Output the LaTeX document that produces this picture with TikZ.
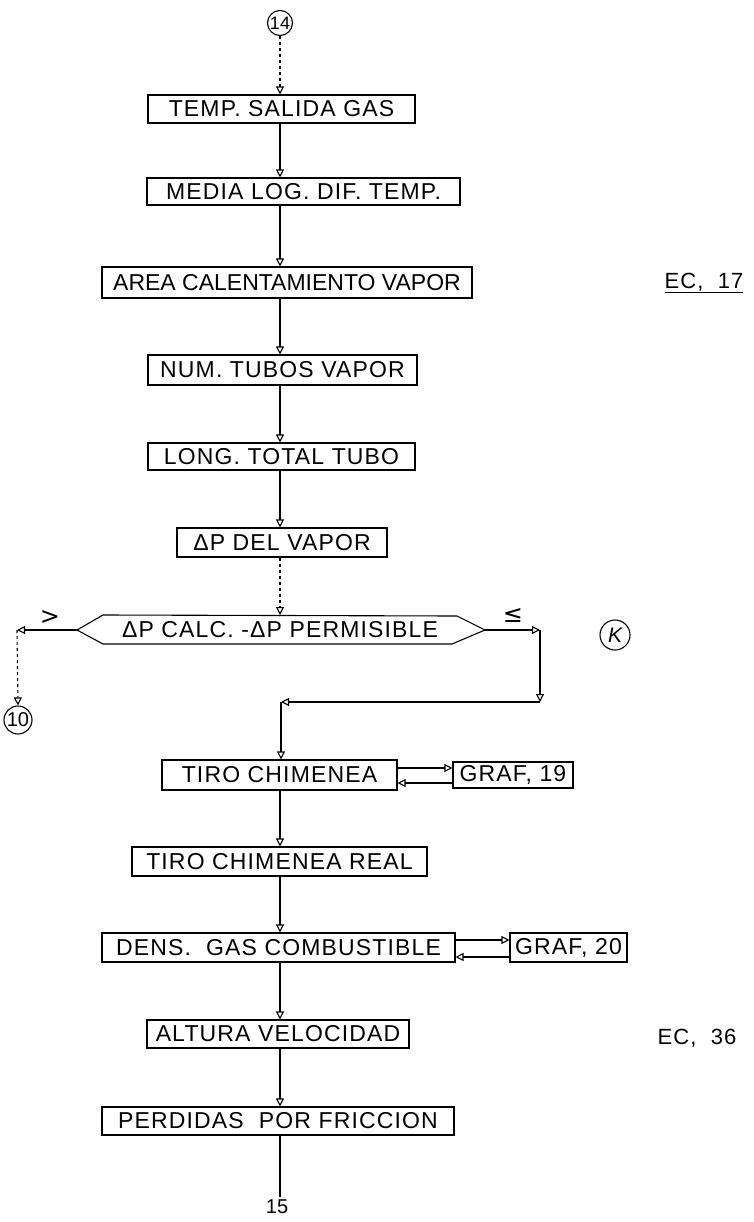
\documentclass[tikz,border=0pt]{standalone}
\usepackage{fontspec}
\setmainfont{Liberation Sans}
\newfontfamily\boxfont[LetterSpace=5]{Liberation Sans}
\newfontfamily\symfont{DejaVu Sans}
\usetikzlibrary{arrows.meta}
\begin{document}
\begin{tikzpicture}[x=1pt,y=-1pt,
  box/.style={draw, line width=1.1pt, inner sep=0pt, font=\boxfont\fontsize{23}{27}\selectfont},
  conn/.style={line width=1.1pt},
  arr/.style={conn, -{Triangle[open, length=8pt, width=8pt]}},
  circ/.style={draw, circle, line width=1.1pt, inner sep=0pt},
  lbl/.style={font=\boxfont\fontsize{22}{26}\selectfont},
  sym/.style={font=\symfont\fontsize{24}{26}\selectfont},
]
\useasboundingbox[fill=white] (0,0) rectangle (754,1222);
\coordinate (ax) at (280,0);

% nodes
\node[circ, minimum size=25pt, font=\fontsize{18}{20}\selectfont] (c14) at (280,23) {14};
\node[box, minimum width=267pt, minimum height=28pt] (b1) at (281.5,109) {TEMP. SALIDA GAS};
\node[box, minimum width=313pt, minimum height=27pt] (b2) at (303.5,191.5) {MEDIA LOG. DIF. TEMP.};
\node[box, minimum width=370pt, minimum height=31pt, font=\fontsize{23}{27}\selectfont] (b3) at (287,282.5) {AREA CALENTAMIENTO VAPOR};
\node[box, minimum width=269pt, minimum height=30pt] (b4) at (282.5,370) {NUM. TUBOS VAPOR};
\node[box, minimum width=267pt, minimum height=27pt] (b5) at (281.5,456.5) {LONG. TOTAL TUBO};
\node[box, minimum width=210pt, minimum height=29pt] (b6) at (282,542.5) {ΔP DEL VAPOR};

% decision
\coordinate (dtl) at (103,615);
\coordinate (dtr) at (457,616);
\coordinate (dr) at (485,630);
\coordinate (dbr) at (452,644);
\coordinate (dbl) at (103,644);
\coordinate (dl) at (77,630);
\draw[conn] (dtl) -- (dtr) -- (dr) -- (dbr) -- (dbl) -- (dl) -- cycle;
\node[font=\boxfont\fontsize{23}{27}\selectfont] (dtext) at (280,630) {ΔP CALC. -ΔP PERMISIBLE};
\coordinate (dtop) at (280,615);

\node[sym] (greater) at (50,618) {>};
\node[sym] (lesseq) at (513,616) {≤};
\node[circ, minimum size=30pt, font=\fontsize{21}{24}\selectfont\itshape] (ck) at (615,635) {K};
\node[circ, minimum size=28pt, font=\fontsize{20}{22}\selectfont] (c10) at (18,720) {10};

\coordinate (lc) at (17,630);
\coordinate (rc) at (540,630);
\coordinate (rb) at (540,702);
\coordinate (lb) at (281,702);

\node[box, minimum width=235pt, minimum height=30pt] (b7) at (279.5,775) {TIRO CHIMENEA};
\node[box, minimum width=120pt, minimum height=26pt] (g19) at (513,775) {GRAF, 19};
\node[box, minimum width=295pt, minimum height=29pt] (b8) at (279.5,861.5) {TIRO CHIMENEA REAL};
\node[box, minimum width=353pt, minimum height=29pt] (b9) at (278.5,947.5) {DENS.\ \ GAS COMBUSTIBLE};
\node[box, minimum width=117pt, minimum height=29pt] (g20) at (568.5,947.5) {GRAF, 20};
\node[box, minimum width=262pt, minimum height=28pt] (b10) at (278,1034) {ALTURA VELOCIDAD};
\node[box, minimum width=352pt, minimum height=28pt] (b11) at (278,1121) {PERDIDAS\ \ POR FRICCION};
\node[font=\fontsize{20}{22}\selectfont] (c15) at (277,1207) {15};

\node[lbl] (ec17) at (704,283) {\underline{EC,\ \ 17}};
\node[lbl] (ec36) at (697,1038) {EC,\ \ 36};

% connectors
\draw[arr, dashed] (c14) -- (b1.north -| ax);
\draw[arr] (b1.south -| ax) -- (b2.north -| ax);
\draw[arr] (b2.south -| ax) -- (b3.north -| ax);
\draw[arr] (b3.south -| ax) -- (b4.north -| ax);
\draw[arr] (b4.south -| ax) -- (b5.north -| ax);
\draw[arr] (b5.south -| ax) -- (b6.north -| ax);
\draw[arr, dashed] (b6.south -| ax) -- (dtop);
\draw[arr] (dl) -- (lc);
\draw[arr, dashed] (lc) -- (c10.north);
\draw[arr] (dr) -- (rc);
\draw[arr] (rc) -- (rb);
\draw[arr] (rb) -- (lb);
\draw[arr] (lb) -- (b7.north -| lb);
\draw[arr] ([yshift=7pt]b7.east) -- ([yshift=7pt]g19.west);
\draw[arr] ([yshift=-8pt]g19.west) -- ([yshift=-8pt]b7.east);
\draw[arr] (b7.south -| ax) -- (b8.north -| ax);
\draw[arr] (b8.south -| ax) -- (b9.north -| ax);
\draw[arr] ([yshift=7.5pt]b9.east) -- ([yshift=7.5pt]g20.west);
\draw[arr] ([yshift=-9.5pt]g20.west) -- ([yshift=-9.5pt]b9.east);
\draw[arr] (b9.south -| ax) -- (b10.north -| ax);
\draw[arr] (b10.south -| ax) -- (b11.north -| ax);
\draw[conn] (b11.south -| ax) -- (c15.north -| ax);
\end{tikzpicture}
\end{document}
